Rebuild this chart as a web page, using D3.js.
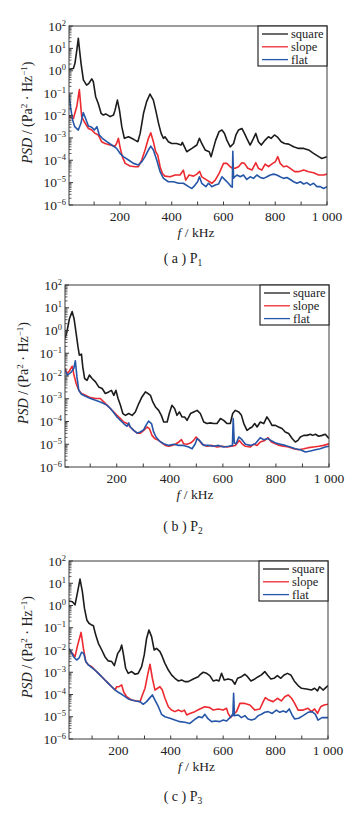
<!DOCTYPE html>
<html>
<head>
<meta charset="utf-8">
<script src="https://cdn.jsdelivr.net/npm/d3@7"></script>
<style>
body { margin: 0; background: #fff; }
text { font-family: "Liberation Serif", "Times New Roman", "DejaVu Serif", serif; fill: #222; }
</style>
</head>
<body>
<svg id="chart" width="364" height="816"></svg>
<script>
// series names / colours for the legend
var seriesNames = ["square", "slope", "flat"];
var seriesColors = ["#1c1c1c", "#ec2a30", "#2656a8"];
var xTicks = [200, 400, 600, 800, 1000];
var xMinorTicks = [100, 300, 500, 700, 900];
var yTickExps = [2, 1, 0, -1, -2, -3, -4, -5, -6];
var captions = ["a", "b", "c"];

// PSD: [f in kHz, log10(PSD)]
var a_square = [[3,0.06],[20,0.1],[26,0.33],[33,0.9],[39,1.45],[44,0.9],[49.5,0.33],[58.5,-0.41],[71,-0.64],[80,-0.56],[91,-0.36],[97,-0.49],[106,-1.16],[116,-1.46],[127,-1.9],[136,-1.98],[145,-1.93],[162,-2.05],[175,-1.98],[181,-1.76],[190,-1.31],[198,-1.76],[207,-2.5],[217,-3.02],[233,-2.95],[245,-3.02],[258,-3.1],[269,-3.17],[278,-2.8],[291,-1.9],[303,-1.38],[316,-1.04],[329,-1.31],[338,-1.76],[349,-2.35],[359,-2.8],[368,-3.02],[374,-2.95],[387,-3.17],[400,-3.25],[419,-3.25],[436,-3.32],[441,-3.2],[452,-3.47],[458,-3.62],[478,-3.47],[497,-3.32],[507,-3.02],[516,-3.25],[529,-3.54],[545,-3.62],[552,-3.84],[561,-3.47],[570,-3.1],[583,-2.72],[594,-2.65],[604,-2.8],[613,-3.1],[626,-3.4],[639,-3.25],[648,-2.87],[658,-2.65],[671,-2.58],[681,-2.8],[690,-3.02],[703,-3.32],[716,-3.02],[725,-2.8],[735,-3.17],[746,-3.32],[761,-3.1],[774,-2.95],[784,-3.02],[797,-2.87],[810,-2.98],[823,-3.17],[836,-3.25],[852,-3.28],[871,-3.4],[890,-3.47],[910,-3.47],[929,-3.54],[948,-3.69],[968,-3.84],[980,-3.92],[1000,-3.84]];
var a_slope = [[3,-2.05],[20,-2.13],[33,-1.6],[43,-0.84],[52,-2.05],[62,-2.28],[78,-2.58],[91,-2.65],[104,-2.8],[116,-2.87],[129,-3.17],[142,-3.25],[162,-3.32],[181,-3.37],[187,-3.25],[194,-3.02],[200,-3.4],[209,-3.84],[220,-4.14],[239,-4.26],[258,-4.29],[271,-4.29],[284,-3.99],[297,-3.54],[310,-3.02],[319,-2.77],[329,-3.17],[338,-3.62],[346,-3.77],[355,-4.29],[364,-4.59],[374,-4.71],[394,-4.74],[413,-4.66],[432,-4.66],[445,-4.44],[454,-4.89],[467,-4.66],[484,-4.71],[497,-4.62],[508,-4.5],[516,-4.74],[536,-4.89],[555,-5.03],[568,-4.89],[583,-4.59],[600,-4.14],[613,-4.14],[626,-4.29],[635,-4.36],[645,-4.36],[658,-4.29],[671,-4.11],[681,-4.14],[694,-4.36],[710,-4.44],[725,-4.11],[735,-4.36],[748,-4.44],[761,-4.17],[774,-4.29],[790,-4.14],[800,-4.07],[810,-3.84],[819,-4.14],[832,-4.29],[845,-4.26],[858,-4.36],[875,-4.51],[890,-4.51],[910,-4.44],[929,-4.51],[948,-4.56],[968,-4.66],[987,-4.66],[1000,-4.62]];
var a_flat = [[3,-1.05],[10,-1.7],[17,-2.2],[25,-2.5],[39,-2.65],[49,-2.35],[58,-1.87],[67,-2.13],[78,-2.47],[91,-2.53],[101,-2.65],[111,-2.5],[120,-2.87],[132,-3.02],[149,-3.17],[168,-3.32],[187,-3.47],[200,-3.69],[213,-3.84],[233,-3.99],[252,-4.14],[271,-4.21],[284,-4.07],[297,-3.84],[310,-3.54],[319,-3.37],[329,-3.54],[342,-3.99],[355,-4.51],[368,-4.81],[387,-4.96],[407,-4.96],[426,-5.03],[445,-5.03],[465,-5.18],[478,-5.26],[490,-5.11],[500,-4.96],[507,-4.74],[516,-5.03],[532,-5.18],[542,-5.03],[555,-5.18],[568,-5.11],[581,-5.06],[594,-4.74],[607,-4.89],[619,-5.03],[630,-5.18],[634,-5.2],[636,-3.6],[639,-4.8],[643,-4.74],[652,-4.66],[665,-4.74],[677,-4.66],[690,-4.86],[703,-4.74],[716,-4.81],[729,-4.66],[742,-4.77],[755,-4.81],[768,-4.74],[781,-4.66],[794,-4.62],[806,-4.66],[819,-4.74],[832,-4.81],[845,-4.77],[858,-4.86],[871,-4.96],[884,-5.03],[897,-4.96],[910,-5.06],[922,-5.0],[935,-5.11],[948,-5.03],[961,-5.18],[974,-5.18],[987,-5.26],[1000,-5.18]];

var b_square = [[5,-0.35],[13,0.0],[22,0.53],[32,0.83],[39,0.53],[47,-0.13],[54,-0.72],[59,-1.08],[67,-1.04],[72,-1.6],[79,-2.11],[88,-2.19],[97,-1.96],[107,-2.11],[120,-2.26],[132,-2.48],[145,-2.55],[157,-2.77],[170,-2.7],[180,-2.63],[189,-2.85],[197,-2.63],[205,-2.99],[214,-3.29],[223,-3.65],[233,-3.73],[245,-3.65],[258,-3.73],[270,-3.58],[283,-3.21],[295,-2.92],[308,-2.7],[318,-2.77],[327,-2.85],[336,-3.14],[346,-3.36],[358,-3.51],[368,-3.73],[377,-4.02],[390,-4.02],[398,-3.65],[408,-3.29],[418,-3.43],[427,-3.73],[436,-3.58],[446,-3.8],[456,-3.8],[465,-3.95],[478,-3.65],[490,-3.58],[503,-3.51],[515,-3.65],[528,-4.02],[540,-4.09],[553,-4.06],[565,-4.09],[578,-4.09],[591,-3.87],[603,-3.95],[616,-4.09],[628,-4.09],[637,-3.65],[647,-3.51],[660,-3.58],[670,-3.73],[679,-4.09],[691,-4.39],[700,-4.31],[710,-4.24],[720,-4.09],[729,-4.24],[741,-4.02],[754,-4.09],[766,-3.8],[775,-3.95],[785,-4.17],[798,-4.17],[810,-4.24],[823,-4.31],[835,-4.46],[848,-4.53],[861,-4.75],[873,-4.9],[883,-4.83],[892,-4.68],[905,-4.61],[917,-4.61],[930,-4.56],[938,-4.61],[949,-4.56],[961,-4.65],[974,-4.61],[986,-4.56],[1000,-4.75]];
var b_slope = [[5,-1.67],[13,-1.89],[22,-1.77],[32,-1.57],[39,-1.96],[47,-2.33],[57,-2.63],[67,-2.77],[82,-2.85],[101,-2.95],[120,-2.99],[138,-2.99],[151,-3.14],[164,-3.29],[176,-3.43],[189,-3.58],[201,-3.73],[214,-3.87],[226,-4.02],[239,-4.09],[251,-4.24],[264,-4.39],[277,-4.51],[289,-4.51],[302,-4.39],[314,-4.24],[323,-4.31],[333,-4.61],[343,-4.75],[358,-4.83],[371,-4.95],[383,-5.05],[396,-5.09],[408,-5.05],[421,-5.0],[434,-4.9],[444,-4.8],[452,-4.98],[465,-5.0],[478,-4.95],[490,-4.83],[499,-4.68],[509,-4.8],[522,-5.0],[540,-5.09],[559,-5.05],[578,-5.12],[597,-5.09],[616,-5.12],[632,-5.09],[647,-5.05],[662,-4.83],[672,-4.98],[685,-5.09],[704,-5.12],[716,-5.0],[729,-5.05],[741,-4.9],[758,-4.83],[770,-4.71],[783,-4.9],[798,-4.98],[813,-5.05],[829,-5.09],[848,-5.12],[867,-5.2],[886,-5.24],[905,-5.2],[923,-5.15],[942,-5.12],[961,-5.09],[980,-5.05],[1000,-4.98]];
var b_flat = [[5,-1.72],[13,-1.96],[22,-1.89],[29,-1.82],[38,-1.67],[44,-1.33],[50,-2.04],[57,-2.63],[67,-2.8],[82,-2.89],[101,-2.99],[120,-3.07],[138,-3.14],[151,-3.21],[164,-3.29],[176,-3.43],[189,-3.62],[201,-3.8],[214,-3.95],[226,-4.09],[239,-4.21],[245,-4.06],[251,-4.24],[264,-4.39],[277,-4.51],[289,-4.46],[302,-4.36],[310,-4.17],[320,-3.98],[331,-4.09],[339,-4.46],[348,-4.68],[361,-4.86],[377,-4.98],[396,-5.05],[415,-5.0],[434,-5.05],[452,-5.05],[471,-5.12],[484,-5.2],[496,-4.98],[503,-4.75],[511,-4.83],[528,-5.05],[547,-5.05],[565,-5.09],[584,-5.05],[603,-5.12],[622,-5.09],[636,-5.05],[639,-3.87],[643,-4.95],[650,-4.98],[660,-4.68],[672,-4.8],[685,-5.0],[704,-5.05],[722,-4.98],[741,-4.71],[754,-4.8],[770,-4.75],[785,-4.86],[800,-4.95],[817,-5.0],[835,-5.05],[854,-5.12],[873,-5.2],[892,-5.24],[911,-5.34],[930,-5.3],[949,-5.24],[967,-5.2],[986,-5.12],[1000,-5.09]];

var c_square = [[12,0.2],[25,0.17],[35,0.03],[45,0.62],[54,1.19],[63,0.62],[71,-0.13],[80,-0.65],[88,-0.8],[99,-0.88],[105,-0.91],[114,-1.33],[124,-1.7],[137,-2.0],[149,-2.3],[162,-2.49],[175,-2.52],[185,-2.7],[190,-2.49],[198,-2.15],[207,-2.0],[213,-1.78],[219,-2.15],[228,-2.82],[238,-3.05],[251,-2.97],[264,-3.09],[276,-3.05],[289,-2.75],[299,-2.22],[308,-1.48],[317,-1.1],[327,-1.4],[337,-2.0],[346,-1.93],[359,-2.07],[368,-2.3],[378,-2.6],[391,-2.9],[403,-3.12],[416,-3.27],[429,-3.39],[442,-3.35],[454,-3.42],[467,-3.42],[486,-3.3],[505,-3.2],[511,-3.12],[524,-3.0],[537,-3.05],[549,-3.15],[562,-3.39],[575,-3.35],[584,-3.39],[594,-3.05],[604,-3.35],[619,-3.3],[634,-3.35],[645,-3.54],[655,-3.27],[670,-3.2],[683,-3.09],[693,-3.2],[706,-3.39],[721,-3.3],[734,-3.2],[746,-3.12],[759,-2.97],[769,-3.12],[782,-3.3],[794,-3.27],[807,-3.15],[820,-3.27],[833,-3.12],[845,-3.05],[858,-3.12],[871,-3.39],[886,-3.6],[899,-3.72],[918,-3.75],[937,-3.8],[949,-3.72],[960,-3.84],[968,-3.65],[981,-3.8],[1000,-3.6]];
var c_slope = [[12,-2.0],[25,-2.15],[35,-2.3],[45,-1.78],[58,-1.21],[67,-1.93],[76,-2.52],[86,-2.67],[99,-2.75],[111,-2.9],[124,-3.05],[137,-3.2],[149,-3.35],[162,-3.5],[175,-3.65],[188,-3.8],[194,-3.65],[203,-3.65],[213,-3.57],[221,-3.9],[232,-4.1],[251,-4.25],[270,-4.29],[283,-4.32],[292,-4.02],[302,-3.72],[312,-3.12],[321,-2.64],[330,-3.27],[340,-3.8],[350,-3.72],[359,-3.65],[368,-3.8],[378,-4.17],[391,-4.55],[403,-4.7],[416,-4.77],[429,-4.7],[442,-4.77],[452,-4.7],[461,-4.92],[473,-4.85],[492,-4.77],[511,-4.65],[530,-4.55],[549,-4.59],[562,-4.7],[581,-4.65],[600,-4.7],[613,-4.62],[619,-4.85],[629,-5.04],[638,-4.89],[651,-4.77],[664,-4.4],[683,-4.4],[702,-4.47],[721,-4.7],[740,-4.65],[753,-4.32],[761,-4.14],[774,-4.25],[791,-4.32],[807,-4.17],[822,-4.29],[835,-4.1],[848,-4.02],[861,-4.17],[873,-4.4],[886,-4.7],[905,-4.7],[924,-4.62],[937,-4.77],[949,-4.65],[960,-4.85],[972,-4.55],[985,-4.47],[1000,-4.44]];
var c_flat = [[12,-1.93],[20,-2.07],[29,-2.3],[41,-2.45],[50,-2.37],[60,-2.1],[68,-2.15],[76,-2.52],[86,-2.67],[99,-2.79],[111,-2.9],[124,-3.05],[137,-3.2],[149,-3.35],[162,-3.5],[175,-3.65],[188,-3.8],[200,-3.9],[213,-3.99],[226,-4.1],[238,-4.2],[251,-4.25],[266,-4.29],[283,-4.32],[295,-4.44],[308,-4.32],[321,-4.14],[330,-4.02],[340,-4.25],[353,-4.55],[365,-4.89],[378,-5.0],[397,-5.07],[416,-5.15],[435,-5.22],[454,-5.25],[473,-5.3],[492,-5.12],[507,-5.0],[520,-5.04],[530,-4.89],[543,-5.1],[556,-5.22],[571,-5.19],[587,-5.22],[600,-5.15],[613,-5.19],[626,-5.04],[634,-4.92],[637,-4.95],[640,-3.95],[643,-4.95],[657,-4.92],[670,-5.04],[683,-4.95],[695,-5.1],[708,-5.15],[721,-5.1],[734,-4.95],[746,-4.89],[759,-4.8],[772,-4.77],[787,-4.85],[803,-4.7],[816,-4.8],[829,-4.74],[841,-4.8],[852,-4.65],[863,-4.92],[873,-5.1],[888,-5.07],[905,-4.95],[924,-4.8],[939,-4.77],[952,-4.89],[962,-5.15],[977,-5.04],[1000,-5.04]];

var panels = [
  { left: 69, right: 327, top: 26, bottom: 205, fmin: 3, series: [a_square, a_slope, a_flat], cap: 263 },
  { left: 65, right: 329, top: 285, bottom: 467, fmin: 5, series: [b_square, b_slope, b_flat], cap: 531 },
  { left: 69, right: 328, top: 561, bottom: 739, fmin: 12, series: [c_square, c_slope, c_flat], cap: 801 }
];

var svg = d3.select("#chart");

panels.forEach(function(p, i) {
  var x = d3.scaleLinear().domain([p.fmin, 1000]).range([p.left, p.right]);
  var y = d3.scaleLog().domain([1e-6, 1e2]).range([p.bottom, p.top]);
  var g = svg.append("g");

  // clip so lines stay inside the frame
  g.append("clipPath").attr("id", "clip" + i)
    .append("rect").attr("x", p.left).attr("y", p.top)
    .attr("width", p.right - p.left).attr("height", p.bottom - p.top);

  var line = d3.line()
    .x(function(d) { return x(d[0]); })
    .y(function(d) { return y(Math.pow(10, d[1])); });

  p.series.forEach(function(s, k) {
    g.append("path")
      .attr("clip-path", "url(#clip" + i + ")")
      .attr("d", line(s))
      .attr("fill", "none")
      .attr("stroke", seriesColors[k])
      .attr("stroke-width", 1.6)
      .attr("stroke-linejoin", "round");
  });

  // frame
  g.append("rect")
    .attr("x", p.left).attr("y", p.top)
    .attr("width", p.right - p.left).attr("height", p.bottom - p.top)
    .attr("fill", "none").attr("stroke", "#3a3a3a").attr("stroke-width", 1);

  // x ticks (inward)
  xTicks.concat(xMinorTicks).forEach(function(t) {
    g.append("line").attr("x1", x(t)).attr("x2", x(t))
      .attr("y1", p.bottom).attr("y2", p.bottom - 3.5)
      .attr("stroke", "#3a3a3a");
  });
  xTicks.forEach(function(t) {
    g.append("text").attr("x", x(t)).attr("y", p.bottom + 16)
      .attr("text-anchor", "middle").attr("font-size", 13.5)
      .text(t === 1000 ? "1 000" : t);
  });

  // y ticks: decades + minor
  yTickExps.forEach(function(e) {
    var v = Math.pow(10, e);
    g.append("line").attr("x1", p.left).attr("x2", p.left + 4)
      .attr("y1", y(v)).attr("y2", y(v)).attr("stroke", "#3a3a3a");
    if (e > -6) {
      for (var m = 2; m <= 9; m++) {
        var vm = m * Math.pow(10, e - 1);
        g.append("line").attr("x1", p.left).attr("x2", p.left + 2.5)
          .attr("y1", y(vm)).attr("y2", y(vm)).attr("stroke", "#3a3a3a").attr("stroke-width", 0.8);
      }
    }
    var t = g.append("text").attr("x", p.left - 3).attr("y", y(v) + 4.5)
      .attr("text-anchor", "end").attr("font-size", 13.5);
    t.append("tspan").text("10");
    t.append("tspan").attr("dy", -5).attr("font-size", 8.5)
      .text(e < 0 ? "\u2212" + (-e) : e);
  });

  // y title
  var cy = (p.top + p.bottom) / 2 - 3;
  var yt = g.append("text")
    .attr("transform", "translate(" + (p.left - 37) + "," + cy + ") rotate(-90)")
    .attr("text-anchor", "middle").attr("font-size", 14);
  yt.append("tspan").attr("font-style", "italic").text("PSD");
  yt.append("tspan").text(" / (Pa");
  yt.append("tspan").attr("dy", -5).attr("font-size", 9).text("2");
  yt.append("tspan").attr("dy", 5).text(" \u00b7 Hz");
  yt.append("tspan").attr("dy", -5).attr("font-size", 9).text("\u22121");
  yt.append("tspan").attr("dy", 5).text(")");

  // x title
  var xt = g.append("text").attr("x", (p.left + p.right) / 2 - 2).attr("y", p.bottom + 32)
    .attr("text-anchor", "middle").attr("font-size", 13.5);
  xt.append("tspan").attr("font-style", "italic").text("f");
  xt.append("tspan").text(" / kHz");

  // legend box at top-right corner
  var lw = 69, lh = 40;
  var lg = g.append("g").attr("transform", "translate(" + (p.right - lw) + "," + p.top + ")");
  lg.append("rect").attr("width", lw).attr("height", lh)
    .attr("fill", "#fff").attr("stroke", "#2a2a2a").attr("stroke-width", 1.2);
  seriesNames.forEach(function(n, k) {
    var ry = 8 + k * 12.8;
    lg.append("line").attr("x1", 4).attr("x2", 30).attr("y1", ry).attr("y2", ry)
      .attr("stroke", seriesColors[k]).attr("stroke-width", 1.3);
    lg.append("text").attr("x", 33).attr("y", ry + 4).attr("font-size", 12.5).text(n);
  });

  // caption
  var ct = g.append("text").attr("x", 183).attr("y", p.cap)
    .attr("text-anchor", "middle").attr("font-size", 14);
  ct.append("tspan").text("( " + captions[i] + " )  P");
  ct.append("tspan").attr("dy", 3).attr("font-size", 9.5).text(i + 1);
});
</script>
</body>
</html>
